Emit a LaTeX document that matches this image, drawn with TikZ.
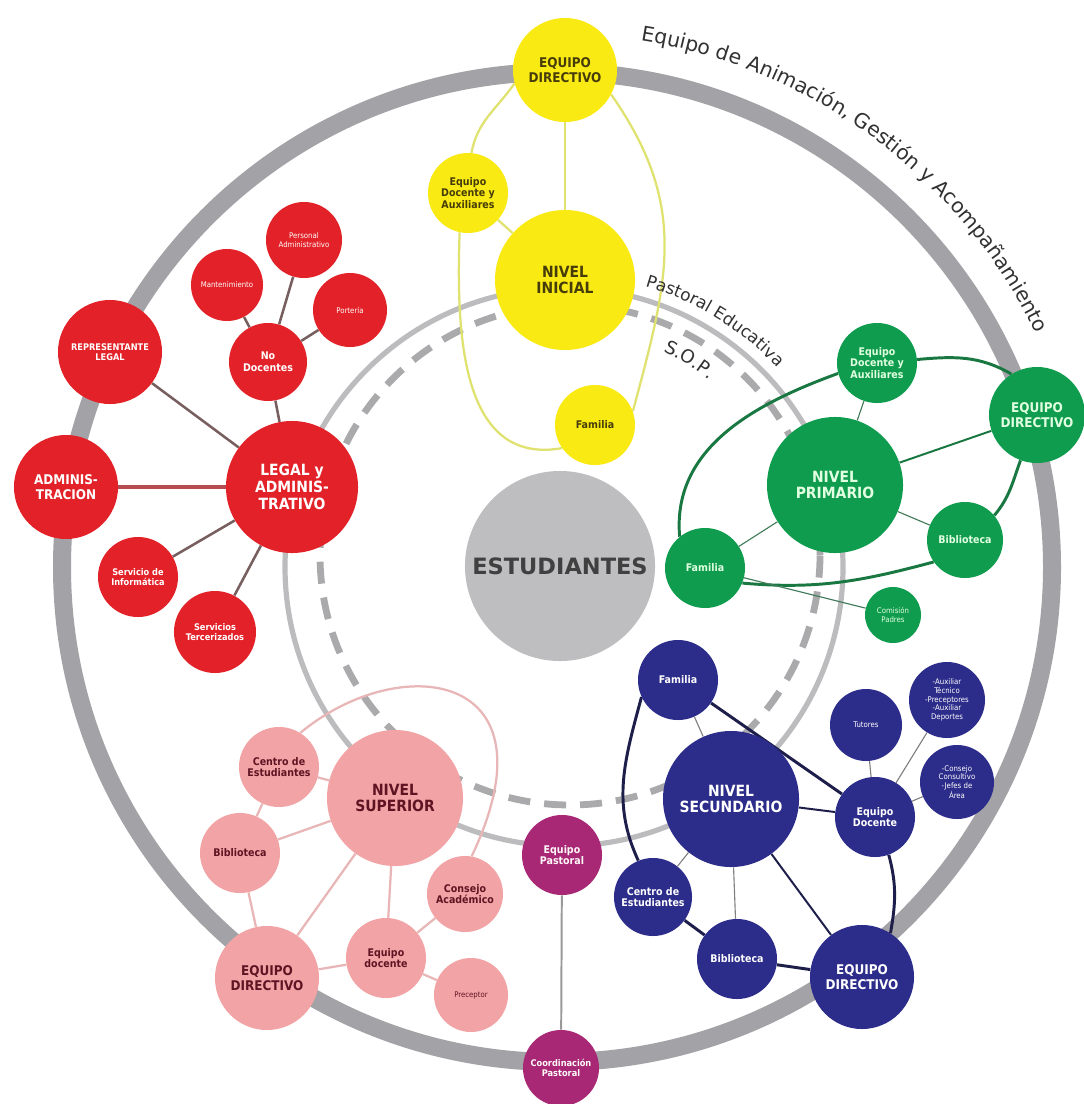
\documentclass[tikz,border=0pt]{standalone}
\usepackage{fontspec}
\setmainfont{DejaVu Sans}
\newfontfamily\condfont{DejaVu Sans Condensed}
\usetikzlibrary{calc}
\usetikzlibrary{decorations.text}
\pgfdeclarelayer{back}
\pgfdeclarelayer{links}
\pgfsetlayers{back,links,main}
\definecolor{ringgray}{RGB}{163,163,167}
\definecolor{midgray}{RGB}{188,188,190}
\definecolor{sopgray}{RGB}{170,170,172}
\definecolor{studgray}{RGB}{190,190,192}
\definecolor{ringtext}{RGB}{50,50,50}
\definecolor{ylw}{RGB}{250,234,20}
\definecolor{ylwline}{RGB}{224,226,112}
\definecolor{ylwtext}{RGB}{70,60,10}
\definecolor{rd}{RGB}{226,34,40}
\definecolor{rdline}{RGB}{120,95,95}
\definecolor{grn}{RGB}{16,156,78}
\definecolor{grnline}{RGB}{25,120,65}
\definecolor{grntext}{RGB}{225,255,225}
\definecolor{blu}{RGB}{44,44,138}
\definecolor{bluline}{RGB}{30,30,75}
\definecolor{pnk}{RGB}{242,163,165}
\definecolor{pnkline}{RGB}{232,182,182}
\definecolor{pnktext}{RGB}{95,20,35}
\definecolor{prp}{RGB}{168,40,118}
\newcommand{\ringfont}{\fontsize{14.5}{14.5}\selectfont\color{ringtext}}

\begin{document}
\begin{tikzpicture}[x=0.025cm,y=0.025cm,
		bub/.style={circle,inner sep=0pt,align=center,minimum size=#1*0.05cm},
		inicial/.style={bub=#1,fill=ylw,text=ylwtext},
		legal/.style={bub=#1,fill=rd,text=white},
		primario/.style={bub=#1,fill=grn,text=grntext},
		secund/.style={bub=#1,fill=blu,text=white},
		superior/.style={bub=#1,fill=pnk,text=pnktext},
		pastoral/.style={bub=#1,fill=prp,text=white!90!pink},
		bigtxt/.style={font=\condfont\bfseries\fontsize{11}{12}\selectfont},
		midtxt/.style={font=\condfont\bfseries\fontsize{9.5}{10.5}\selectfont},
		smalltxt/.style={font=\condfont\bfseries\fontsize{7.5}{8.3}\selectfont},
		minitxt/.style={font=\condfont\bfseries\fontsize{6.5}{7.2}\selectfont},
		tinytxt/.style={font=\condfont\fontsize{5.5}{6.2}\selectfont},
		ylink/.style={draw=ylwline,line width=1.6pt},
		rlink/.style={draw=rdline,line width=1.8pt},
		glink/.style={draw=grnline,line width=2.1pt},
		gthin/.style={draw=grnline!60!gray,line width=0.8pt},
		blink/.style={draw=bluline,line width=2.1pt},
		bthin/.style={draw=gray,line width=0.8pt},
		plink/.style={draw=pnkline,line width=1.6pt},
		pulink/.style={draw=gray!80,line width=1.4pt}]
		\useasboundingbox (0,0) rectangle (1084,-1104);
		\coordinate (mid) at (557,-567);
		\coordinate (pcen) at (564,-567);
		\coordinate (sop) at (570,-555);

		\node[bub=95,fill=studgray,text=black!75,font=\bfseries\fontsize{16}{16}\selectfont] (est) at (560,-566) {ESTUDIANTES};

		\node[inicial=52,midtxt]   (yED)  at (565,-70)  {EQUIPO\\DIRECTIVO};
		\node[inicial=40,smalltxt] (yEDA) at (468,-193) {Equipo\\Docente y\\Auxiliares};
		\node[inicial=70,bigtxt]   (yNI)  at (565,-280) {NIVEL\\INICIAL};
		\node[inicial=40,smalltxt] (yF)   at (595,-425) {Familia};

		\node[legal=66,bigtxt]     (rL)  at (292,-487) {LEGAL y\\ADMINIS-\\TRATIVO};
		\node[legal=52,midtxt]     (rA)  at (66,-487)  {ADMINIS-\\TRACION};
		\node[legal=52,minitxt]    (rR)  at (110,-352) {REPRESENTANTE\\LEGAL};
		\node[legal=39,smalltxt]   (rN)  at (268,-362) {No\\Docentes};
		\node[legal=36,tinytxt]    (rM)  at (227,-285) {Mantenimiento};
		\node[legal=38,tinytxt]    (rP)  at (304,-240) {Personal\\Administrativo};
		\node[legal=37,tinytxt]    (rPo) at (350,-310) {Portería};
		\node[legal=40,minitxt]    (rS)  at (138,-577) {Servicio de\\Informática};
		\node[legal=41,minitxt]    (rT)  at (215,-632) {Servicios\\Tercerizados};

		\node[primario=68,bigtxt]   (gNP)  at (835,-485)  {NIVEL\\PRIMARIO};
		\node[primario=40,smalltxt] (gEDA) at (877,-363)  {Equipo\\Docente y\\Auxiliares};
		\node[primario=48,midtxt]   (gED)  at (1037,-415) {EQUIPO\\DIRECTIVO};
		\node[primario=38,smalltxt] (gB)   at (965,-540)  {Biblioteca};
		\node[primario=40,smalltxt] (gF)   at (705,-568)  {Familia};
		\node[primario=28,tinytxt]  (gC)   at (893,-615)  {Comisión\\Padres};

		\node[secund=68,bigtxt]   (bNS) at (731,-799) {NIVEL\\SECUNDARIO};
		\node[secund=40,smalltxt] (bF)  at (678,-680) {Familia};
		\node[secund=36,tinytxt]  (bT)  at (866,-725) {Tutores};
		\node[secund=38,tinytxt]  (bA)  at (947,-700) {-Auxiliar\\Técnico\\-Preceptores\\-Auxiliar\\Deportes};
		\node[secund=37,tinytxt]  (bJ)  at (957,-782) {-Consejo\\Consultivo\\-Jefes de\\Área};
		\node[secund=40,smalltxt] (bEd) at (875,-817) {Equipo\\Docente};
		\node[secund=39,smalltxt] (bC)  at (653,-897) {Centro de\\Estudiantes};
		\node[secund=40,smalltxt] (bB)  at (737,-959) {Biblioteca};
		\node[secund=52,midtxt]   (bED) at (862,-977) {EQUIPO\\DIRECTIVO};

		\node[superior=68,bigtxt]   (pNS) at (395,-798) {NIVEL\\SUPERIOR};
		\node[superior=40,smalltxt] (pC)  at (279,-767) {Centro de\\Estudiantes};
		\node[superior=40,smalltxt] (pB)  at (240,-853) {Biblioteca};
		\node[superior=52,midtxt]   (pED) at (267,-978) {EQUIPO\\DIRECTIVO};
		\node[superior=40,smalltxt] (pE)  at (386,-958) {Equipo\\docente};
		\node[superior=38,smalltxt] (pCA) at (465,-894) {Consejo\\Académico};
		\node[superior=37,tinytxt]  (pP)  at (471,-995) {Preceptor};

		\node[pastoral=40,smalltxt] (pu1) at (562,-855)  {Equipo\\Pastoral};
		\node[pastoral=38,minitxt]  (pu2) at (561,-1068) {Coordinación\\Pastoral};

		\begin{pgfonlayer}{back}
		\fill[white] (0,0) rectangle (1084,-1104);
		\draw[ringgray,line width=0.45cm] (mid) circle[radius=495];
		\draw[midgray,line width=0.13cm] (pcen) circle[radius=279];
		\draw[sopgray,line width=0.17cm,dash pattern=on 0.55cm off 0.35cm] (sop) circle[radius=250];
		\end{pgfonlayer}

		\path[decorate,decoration={text along path,text align=center,
			text={|\ringfont|Equipo de Animación, Gestión y Acompañamiento}}]
			($(mid)+(93:533)$) arc[start angle=93,end angle=14,radius=533];
		\path[decorate,decoration={text along path,text align=center,
			text={|\fontsize{12}{12}\selectfont\color{ringtext}|Pastoral Educativa}}]
			($(pcen)+(82:292)$) arc[start angle=82,end angle=35,radius=292];
		\path[decorate,decoration={text along path,text align=center,
			text={|\fontsize{13}{13}\selectfont\color{ringtext}|S.O.P.}}]
			($(sop)+(75:224)$) arc[start angle=75,end angle=42,radius=224];

		\begin{pgfonlayer}{links}
		\path[ylink] (yED) edge (yNI) (yEDA) edge (yNI);
		\draw[ylink] (yED.195) to[out=235,in=80] (yEDA.85);
		\draw[ylink] (yEDA.258) to[out=268,in=190,looseness=1.1] (yF.215);
		\draw[ylink] (yED.-28) to[out=-55,in=75,looseness=1.1] (yF.20);

		\path[rlink] (rL) edge (rR) (rL) edge (rN) (rL) edge (rS) (rL) edge (rT)
			(rN) edge (rM) (rN) edge (rP) (rN) edge (rPo);
		\path[rlink,draw=rd!55!gray,line width=2.2pt] (rL) edge (rA);

		\draw[glink] (gF.129) to[out=95,in=200] (gEDA.195);
		\draw[glink] (gEDA.5) to[out=5,in=150] (gED.122);
		\draw[glink] (gED.250) to[out=250,in=50] (gB.40);
		\draw[glink] (gB.215) to[out=195,in=-5] (gF.-22);
		\path[gthin] (gNP) edge (gEDA) (gNP) edge (gB) (gNP) edge (gF) (gF) edge (gC);
		\path[glink,line width=1.4pt] (gNP) edge (gED);

		\draw[blink] (bF.205) to[out=255,in=115] (bC.112);
		\draw[blink] (bED.57) to[out=80,in=285] (bEd.290);
		\path[blink] (bC) edge (bB) (bB) edge (bED) (bF) edge (bEd);
		\path[bthin] (bNS) edge (bF) (bNS) edge (bC) (bNS) edge (bB)
			(bEd) edge (bT) (bEd) edge (bA) (bEd) edge (bJ);
		\path[blink,line width=1.4pt] (bNS) edge (bEd) (bNS) edge (bED);

		\path[plink] (pNS) edge (pC) (pNS) edge (pB) (pNS) edge (pED) (pNS) edge (pE)
			(pC) edge (pB) (pB) edge (pED) (pED) edge (pE) (pE) edge (pCA) (pE) edge (pP);
		\draw[plink] (pC.58) .. controls (400,-650) and (560,-670) .. (pCA.80);

		\path[pulink] (pu1) edge (pu2);
		\end{pgfonlayer}
\end{tikzpicture}
\end{document}
